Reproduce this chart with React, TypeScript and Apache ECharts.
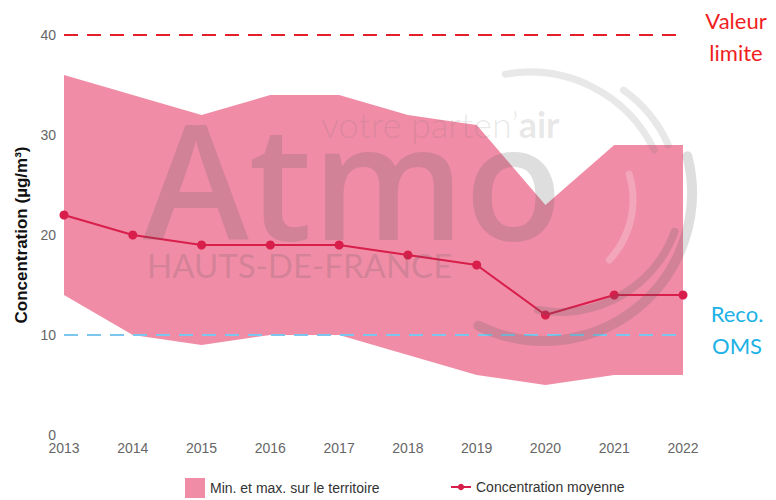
import React, { useEffect, useRef } from "react";
import * as echarts from "echarts";

const years = ["2013", "2014", "2015", "2016", "2017", "2018", "2019", "2020", "2021", "2022"];
const minValues = [14, 10, 9, 10, 10, 8, 6, 5, 6, 6];
const maxValues = [36, 34, 32, 34, 34, 32, 31, 23, 29, 29];
const meanValues = [22, 20, 19, 19, 19, 18, 17, 12, 14, 14];
const limitValue = 40;
const omsValue = 10;

const BAND_NAME = "Min. et max. sur le territoire";
const MEAN_NAME = "Concentration moyenne";

const BAND_COLOR = "#F08CA6";
const MEAN_COLOR = "#D81E4A";
const WM = "rgba(90,90,90,0.2)";
const WM_LIGHT = "rgba(110,110,110,0.16)";

export default function App() {
  const ref = useRef<HTMLDivElement>(null);

  useEffect(() => {
    if (!ref.current) return;
    const chart = echarts.init(ref.current, null, { renderer: "svg" });
    const bandRange = maxValues.map((v, i) => v - minValues[i]);
    const font = "'Liberation Sans', Arial, sans-serif";
    const legendText = { fontSize: 14, color: "#333", fontFamily: font };

    chart.setOption({
      animation: false,
      textStyle: { fontFamily: font },
      grid: { left: 64, right: 93, top: 35, bottom: 65 },
      legend: [
        {
          left: 180,
          top: 473,
          itemWidth: 20,
          itemHeight: 20,
          textStyle: legendText,
          data: [{ name: BAND_NAME, icon: "rect" }],
        },
        {
          left: 445,
          top: 475,
          itemWidth: 20,
          itemHeight: 8,
          textStyle: legendText,
          data: [{ name: MEAN_NAME }],
        },
      ],
      xAxis: {
        type: "category",
        data: years,
        boundaryGap: false,
        axisLine: { show: false },
        axisTick: { show: false },
        axisLabel: { color: "#666", fontSize: 14, margin: 6 },
        splitLine: { show: false },
      },
      yAxis: {
        type: "value",
        min: 0,
        max: 40,
        interval: 10,
        axisLine: { show: false },
        axisTick: { show: false },
        splitLine: { show: false },
        axisLabel: { color: "#666", fontSize: 14, margin: 8 },
        name: "Concentration (µg/m³)",
        nameLocation: "middle",
        nameGap: 33,
        nameTextStyle: { fontSize: 17, fontWeight: "bold", color: "#111", fontFamily: font },
      },
      series: [
        {
          name: "min",
          type: "line",
          data: minValues,
          stack: "band",
          symbol: "none",
          lineStyle: { opacity: 0 },
          silent: true,
          z: 1,
        },
        {
          name: BAND_NAME,
          type: "line",
          data: bandRange,
          stack: "band",
          symbol: "none",
          lineStyle: { opacity: 0, width: 0 },
          itemStyle: { color: BAND_COLOR },
          areaStyle: { color: BAND_COLOR, opacity: 1 },
          z: 1,
        },
        {
          name: MEAN_NAME,
          type: "line",
          data: meanValues,
          symbol: "circle",
          symbolSize: 9,
          itemStyle: { color: MEAN_COLOR },
          lineStyle: { color: MEAN_COLOR, width: 2 },
          z: 3,
          markLine: {
            silent: true,
            symbol: "none",
            label: { show: false },
            data: [
              { yAxis: limitValue, lineStyle: { color: "#E3202A", width: 2, type: [14, 9] } },
              { yAxis: omsValue, lineStyle: { color: "#7CC6EE", width: 2, type: [14, 9] } },
            ],
          },
        },
      ],
      graphic: [
        {
          type: "text",
          z: 100,
          silent: true,
          x: 143,
          y: 178,
          style: {
            text: "Atmo",
            font: "600 160px 'Open Sans'",
            fill: WM,
            verticalAlign: "middle",
            align: "left",
          },
        },
        {
          type: "text",
          z: 100,
          silent: true,
          x: 321,
          y: 124,
          style: {
            text: "{a|votre parten’}{b|air}",
            verticalAlign: "middle",
            align: "left",
            rich: {
              a: { fontSize: 36, fontWeight: 300, fontFamily: "Lato", fill: WM_LIGHT },
              b: { fontSize: 36, fontWeight: 700, fontFamily: "Lato", fill: WM_LIGHT },
            },
          },
        },
        {
          type: "text",
          z: 100,
          silent: true,
          x: 147,
          y: 265,
          style: {
            text: "HAUTS-DE-FRANCE",
            font: "400 33px Lato",
            fill: WM,
            verticalAlign: "middle",
            align: "left",
          },
        },
        {
          type: "arc",
          z: 100,
          silent: true,
          shape: { cx: 544, cy: 193, r: 148, startAngle: -0.25, endAngle: 2.03, clockwise: true },
          style: { stroke: WM, lineWidth: 10, fill: "none", lineCap: "round" },
        },
        {
          type: "arc",
          z: 100,
          silent: true,
          shape: { cx: 560, cy: 190, r: 122, startAngle: 0.35, endAngle: 1.75, clockwise: true },
          style: { stroke: WM, lineWidth: 8, fill: "none", lineCap: "round" },
        },
        {
          type: "arc",
          z: 100,
          silent: true,
          shape: { cx: 530, cy: 210, r: 138, startAngle: -1.75, endAngle: -0.45, clockwise: true },
          style: { stroke: WM_LIGHT, lineWidth: 7, fill: "none", lineCap: "round" },
        },
        {
          type: "arc",
          z: 100,
          silent: true,
          shape: { cx: 545, cy: 200, r: 135, startAngle: -0.95, endAngle: -0.42, clockwise: true },
          style: { stroke: WM_LIGHT, lineWidth: 7, fill: "none", lineCap: "round" },
        },
        {
          type: "arc",
          z: 100,
          silent: true,
          shape: { cx: 545, cy: 200, r: 88, startAngle: -0.3, endAngle: 0.75, clockwise: true },
          style: { stroke: "rgba(255,255,255,0.22)", lineWidth: 7, fill: "none", lineCap: "round" },
        },
        {
          type: "text",
          z: 100,
          silent: true,
          x: 736,
          y: 36,
          style: {
            text: "Valeur\nlimite",
            font: "400 22px Lato",
            fill: "#F01E1E",
            align: "center",
            verticalAlign: "middle",
            lineHeight: 32,
          },
        },
        {
          type: "text",
          z: 100,
          silent: true,
          x: 737,
          y: 329,
          style: {
            text: "Reco.\nOMS",
            font: "400 22px Lato",
            fill: "#20B2E6",
            align: "center",
            verticalAlign: "middle",
            lineHeight: 32,
          },
        },
      ],
    });

    return () => chart.dispose();
  }, []);

  return <div ref={ref} style={{ width: 776, height: 500, position: "absolute", left: 0, top: 0 }} />;
}
